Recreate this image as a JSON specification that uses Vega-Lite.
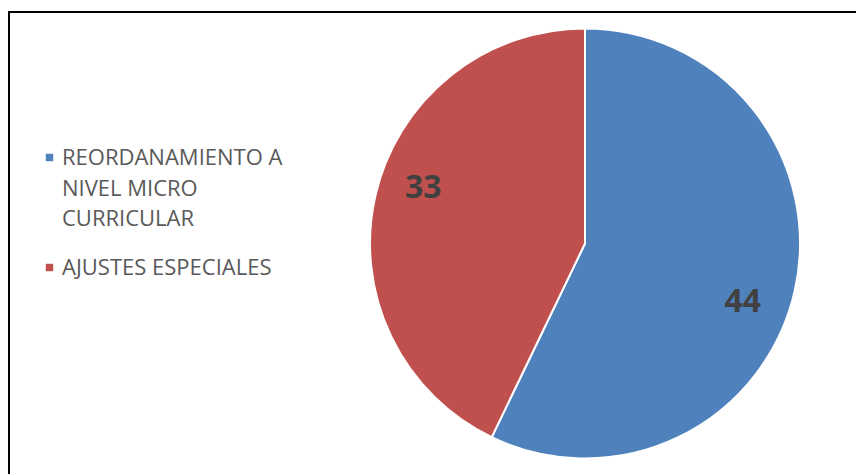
{
  "$schema": "https://vega.github.io/schema/vega-lite/v6.json",
  "width": 852,
  "height": 470,
  "autosize": {"type": "none"},
  "padding": {"left": 9, "top": 12, "right": -5, "bottom": -8},
  "background": "white",
  "view": {"stroke": "#000000", "strokeWidth": 2},
  "config": {
    "view": {"stroke": "#000000", "strokeWidth": 2},
    "style": {"guide-label": {"lineHeight": 30.5, "dy": -9.5}}
  },
  "data": {
    "values": [
      {"categoria": "REORDANAMIENTO A NIVEL MICRO CURRICULAR", "valor": 44, "orden": 1},
      {"categoria": "AJUSTES ESPECIALES", "valor": 33, "orden": 2}
    ]
  },
  "encoding": {
    "theta": {"field": "valor", "type": "quantitative", "stack": true},
    "order": {"field": "orden", "type": "quantitative"}
  },
  "layer": [
    {
      "mark": {"type": "arc", "outerRadius": 215, "x": 576, "y": 231.5, "stroke": "white", "strokeWidth": 2},
      "encoding": {
        "color": {
          "field": "categoria",
          "type": "nominal",
          "scale": {
            "domain": ["REORDANAMIENTO A NIVEL MICRO CURRICULAR", "AJUSTES ESPECIALES"],
            "range": ["#4F81BD", "#C0504D"]
          },
          "legend": {
            "title": null,
            "orient": "none",
            "legendX": 29.5,
            "legendY": 134.5,
            "padding": 0,
            "symbolType": "square",
            "symbolSize": 55,
            "symbolStrokeWidth": 0,
            "labelOffset": 1.5,
            "labelFont": "Open Sans",
            "labelFontSize": 22,
            "labelColor": "#595959",
            "labelLimit": 500,
            "labelBaseline": "top",
            "rowPadding": 26,
            "labelExpr": "datum.label == 'REORDANAMIENTO A NIVEL MICRO CURRICULAR' ? ['REORDANAMIENTO A', 'NIVEL MICRO', 'CURRICULAR'] : datum.label"
          }
        }
      }
    },
    {
      "mark": {"type": "text", "radius": 168, "x": 576, "y": 231.5, "dx": -6, "dy": 21, "font": "Open Sans", "fontSize": 32, "fontWeight": "bold", "baseline": "middle", "align": "center"},
      "encoding": {
        "text": {"field": "valor", "type": "quantitative"},
        "color": {"value": "#404040"},
        "opacity": {"condition": {"test": "datum.orden == 1", "value": 1}, "value": 0}
      }
    },
    {
      "mark": {"type": "text", "radius": 168, "x": 576, "y": 231.5, "dx": 2, "dy": -18.5, "font": "Open Sans", "fontSize": 32, "fontWeight": "bold", "baseline": "middle", "align": "center"},
      "encoding": {
        "text": {"field": "valor", "type": "quantitative"},
        "color": {"value": "#404040"},
        "opacity": {"condition": {"test": "datum.orden == 2", "value": 1}, "value": 0}
      }
    }
  ]
}
